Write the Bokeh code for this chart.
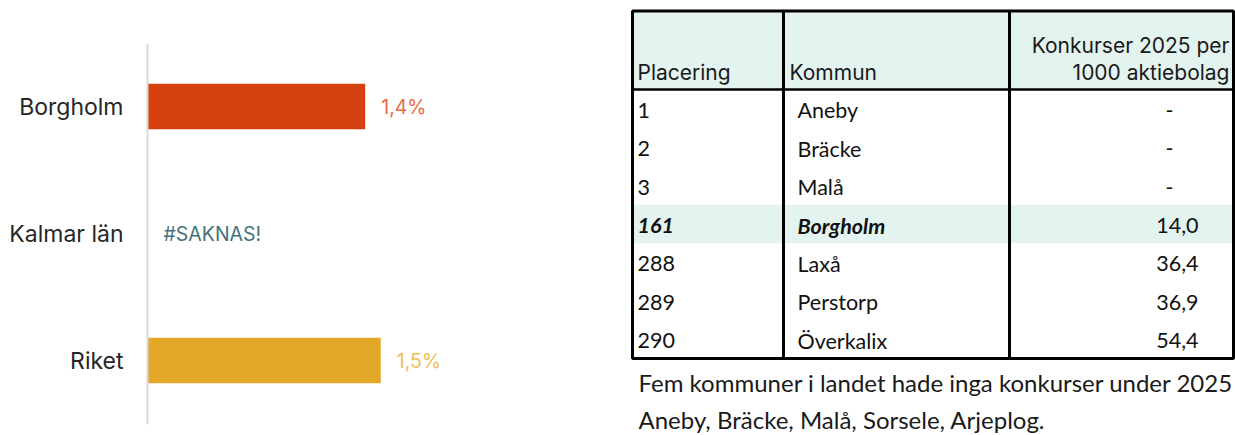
from bokeh.plotting import figure
from bokeh.models import ColumnDataSource, Range1d, FixedTicker
from bokeh.layouts import row
from bokeh.embed import file_html
from bokeh.resources import INLINE
from bokeh.core.properties import value

# ---------------- data ----------------
categories = ["Borgholm", "Kalmar län", "Riket"]
shares = [1.4, None, 1.5]
bar_colors = ["#d5400f", "#e3a827", "#e3a827"]
label_colors = ["#ec6a43", "#46717a", "#efbd58"]
missing_text = "#SAKNAS!"

header_left = ["Placering", "Kommun"]
header_right = ["Konkurser 2025 per", "1000 aktiebolag"]
ranks = ["1", "2", "3", "161", "288", "289", "290"]
kommuner = ["Aneby", "Bräcke", "Malå", "Borgholm", "Laxå", "Perstorp", "Överkalix"]
rates = [None, None, None, 14.0, 36.4, 36.9, 54.4]
highlight = "Borgholm"
footnote = ["Fem kommuner i landet hade inga konkurser under 2025",
            "Aneby, Bräcke, Malå, Sorsele, Arjeplog."]

CHART_FONT = "Inter"
BODY_FONT = "Lato"
H = 435

# ---------------- bar chart ----------------
LW = 625
band = 127.0                      # px per category
first_c = 106.0                   # px centre of first category
p = figure(width=LW, height=H,
           y_range=Range1d((H - first_c) / band, -first_c / band),
           x_range=Range1d(0, (LW - 147) / 155.5),
           output_backend="svg", toolbar_location=None,
           x_axis_location=None,
           min_border_left=147, min_border_top=0,
           min_border_bottom=0, min_border_right=0)
p.grid.visible = False
p.outline_line_color = None

idx = list(range(len(categories)))
ax = p.yaxis[0]
ax.ticker = FixedTicker(ticks=idx)
ax.major_label_overrides = {i: c for i, c in zip(idx, categories)}
ax.bounds = (-0.5, len(categories) - 0.5)
ax.axis_line_color = "#d9d9d9"
ax.axis_line_width = 2
ax.major_tick_line_color = None
ax.minor_tick_line_color = None
ax.major_tick_out = 0
ax.major_tick_in = 0
ax.major_label_standoff = 24
ax.major_label_text_font = CHART_FONT
ax.major_label_text_font_size = "23px"
ax.major_label_text_color = "#262626"

bar_src = ColumnDataSource(dict(
    y=[i for i, v in zip(idx, shares) if v is not None],
    val=[v for v in shares if v is not None],
    col=[col for col, v in zip(bar_colors, shares) if v is not None],
))
p.hbar(y="y", left=0, right="val", height=0.36, fill_color="col",
       line_color=None, source=bar_src)

lab_src = ColumnDataSource(dict(
    y=idx,
    x=[v if v is not None else 0 for v in shares],
    txt=[("%.1f%%" % v).replace(".", ",") if v is not None else missing_text for v in shares],
    col=label_colors,
))
p.text(x="x", y="y", text="txt", source=lab_src, x_offset=16,
       text_align="left", text_baseline="middle",
       text_font=value(CHART_FONT), text_font_size="19.5px", text_color="col")

# ---------------- table ----------------
X0 = LW
TW = 1235 - LW
t = figure(width=TW, height=H, x_range=Range1d(X0, X0 + TW), y_range=Range1d(H, 0),
           output_backend="svg", toolbar_location=None,
           x_axis_location=None, y_axis_location=None, min_border=0)
t.grid.visible = False
t.outline_line_color = None

col_edges = [632, 783, 1009, 1233]
top, head_bot, bot = 10.5, 89, 358
row_h = (bot - head_bot) / len(ranks)
row_c = [head_bot + (i + 0.5) * row_h for i in range(len(ranks))]
bg = "#e3f3ef"

hi = kommuner.index(highlight)
t.quad(left=[col_edges[0], col_edges[0]], right=[col_edges[-1], col_edges[-1]],
       top=[top, head_bot + hi * row_h], bottom=[head_bot, head_bot + (hi + 1) * row_h],
       fill_color=bg, line_color=None)

t.quad(left=col_edges[0], right=col_edges[-1], top=top, bottom=bot,
       fill_color=None, line_color="black", line_width=3)
t.segment(x0=col_edges[1:3], y0=[top, top], x1=col_edges[1:3], y1=[bot, bot],
          line_color="black", line_width=3)
t.segment(x0=[col_edges[0]], y0=[head_bot], x1=[col_edges[-1]], y1=[head_bot],
          line_color="black", line_width=2.5)

# header
t.text(x=[col_edges[0] + 5, col_edges[1] + 6], y=[72, 72], text=header_left,
       text_align="left", text_baseline="middle",
       text_font=value(CHART_FONT), text_font_size="21px", text_color="#1a1a1a")
t.text(x=[col_edges[3] - 4, col_edges[3] - 4], y=[44.5, 72], text=header_right,
       text_align="right", text_baseline="middle",
       text_font=value(CHART_FONT), text_font_size="21px", text_color="#1a1a1a")

# body
styles = ["bold italic" if k == highlight else "normal" for k in kommuner]
body = ColumnDataSource(dict(
    y=[c + 1.5 for c in row_c], rank=ranks, kom=kommuner, st=styles,
    vtxt=[("%.1f" % v).replace(".", ",") if v is not None else "-" for v in rates],
    vx=[1198 if v is not None else 1173 for v in rates],
))
for x, field in [(col_edges[0] + 5, "rank"), (col_edges[1] + 14, "kom")]:
    t.text(x=x, y="y", text=field, source=body, text_align="left",
           text_baseline="middle", text_font=value(BODY_FONT),
           text_font_size="21.5px", text_font_style="st", text_color="#111111")
t.text(x="vx", y="y", text="vtxt", source=body, text_align="right",
       text_baseline="middle", text_font=value(BODY_FONT),
       text_font_size="21.5px", text_color="#111111")

# footnote
t.text(x=[638, 638], y=[382, 419], text=footnote, text_align="left",
       text_baseline="middle", text_font=value(BODY_FONT),
       text_font_size="24px", text_color="#1a1a1a")

layout = row(p, t)
open("out.html", "w").write(file_html(layout, INLINE))
